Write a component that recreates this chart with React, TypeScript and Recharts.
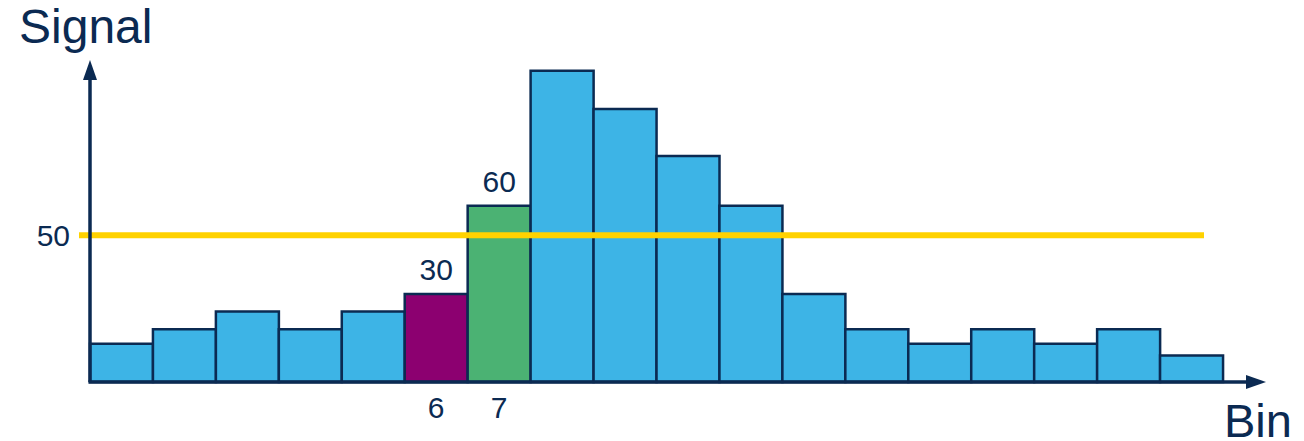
import React from "react";
import { BarChart, Bar, XAxis, YAxis, Cell, ReferenceLine, LabelList } from "recharts";

const bins = ["1","2","3","4","5","6","7","8","9","10","11","12","13","14","15","16","17","18"];
const signal = [13, 18, 24, 18, 24, 30, 60, 106, 93, 77, 60, 30, 18, 13, 18, 13, 18, 9];
const highlighted: Record<string, string> = { "6": "#8C0070", "7": "#4BB273" };
const thresholdValue = 50;
const yTicks = [50];

const NAVY = "#0B2A52";
const BLUE = "#3DB4E6";
const YELLOW = "#FFD200";
const FONT = "Liberation Sans, Arial, sans-serif";

const W = 1304;
const H = 441;
const X_AXIS_H = 30;
const M = { top: 59, right: 81, bottom: 59 - X_AXIS_H, left: 0 };
const Y_AXIS_W = 90;

const data = bins.map((b, i) => ({ bin: b, value: signal[i] }));

const ThresholdShape = (props: any) => {
  const { x1, x2, y1 } = props;
  return <line x1={x1 - 11} x2={x2 - 19} y1={y1} y2={y1} stroke={YELLOW} strokeWidth={6} />;
};

const renderValueLabel = (props: any) => {
  const { x, y, width, index } = props;
  const b = bins[index];
  if (!highlighted[b]) return null;
  return (
    <text x={x + width / 2} y={y - 14} textAnchor="middle" fill={NAVY} fontSize={30} fontFamily={FONT}>
      {signal[index]}
    </text>
  );
};

export default function App() {
  const left = M.left + Y_AXIS_W;
  const base = H - M.bottom - X_AXIS_H;
  const axisTop = 60;
  const axisRight = 1266;
  return (
    <div style={{ position: "absolute", left: 0, top: 0, width: W, height: H, background: "#fff" }}>
      <BarChart width={W} height={H} data={data} margin={M} barCategoryGap={0}>
        <XAxis
          dataKey="bin"
          height={X_AXIS_H}
          axisLine={false}
          tickLine={false}
          interval={0}
          tickFormatter={(v: string) => (highlighted[v] ? v : "")}
          tick={{ fill: NAVY, fontSize: 30, fontFamily: FONT }}
          tickMargin={9}
        />
        <YAxis
          domain={[0, 110]}
          ticks={yTicks}
          width={Y_AXIS_W}
          axisLine={false}
          tickLine={false}
          tickSize={0}
          tickMargin={20}
          tick={{ fill: NAVY, fontSize: 30, fontFamily: FONT }}
        />
        <Bar dataKey="value" isAnimationActive={false} stroke={NAVY} strokeWidth={2.5}>
          {data.map((d) => (
            <Cell key={d.bin} fill={highlighted[d.bin] || BLUE} />
          ))}
          <LabelList dataKey="value" content={renderValueLabel} />
        </Bar>
        <ReferenceLine y={thresholdValue} shape={ThresholdShape} ifOverflow="visible" />
      </BarChart>
      <svg width={W} height={H} style={{ position: "absolute", left: 0, top: 0, pointerEvents: "none" }}>
        <line x1={left} y1={base} x2={left} y2={axisTop + 18} stroke={NAVY} strokeWidth={3.5} />
        <polygon points={`${left},${axisTop} ${left - 7},${axisTop + 20} ${left + 7},${axisTop + 20}`} fill={NAVY} />
        <line x1={left - 1.5} y1={base} x2={axisRight - 18} y2={base} stroke={NAVY} strokeWidth={3.5} />
        <polygon points={`${axisRight},${base} ${axisRight - 20},${base - 7} ${axisRight - 20},${base + 7}`} fill={NAVY} />
        <text x={19} y={43} fill={NAVY} fontSize={48} fontFamily={FONT}>Signal</text>
        <text x={1224} y={437} fill={NAVY} fontSize={47} fontFamily={FONT}>Bin</text>
      </svg>
    </div>
  );
}
